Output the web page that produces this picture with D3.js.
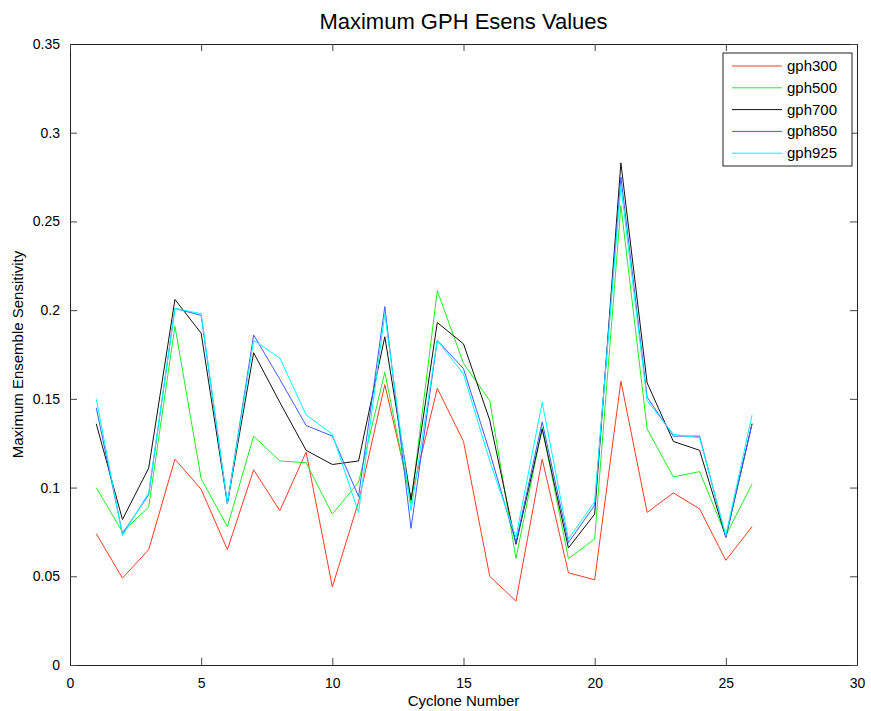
<!DOCTYPE html>
<html>
<head>
<meta charset="utf-8">
<script src="https://cdn.jsdelivr.net/npm/d3@7"></script>
<style>
  body { margin: 0; background: #fff; }
  text { font-family: "Liberation Sans", Arial, sans-serif; }
</style>
</head>
<body>
<div id="chart"></div>
<script>
// cyclone numbers 1..26
var cyclones = [1,2,3,4,5,6,7,8,9,10,11,12,13,14,15,16,17,18,19,20,21,22,23,24,25,26];

var gph300 = [0.074,0.049,0.065,0.116,0.099,0.065,0.110,0.087,0.120,0.044,0.092,0.158,0.094,0.156,0.126,0.050,0.036,0.116,0.052,0.048,0.160,0.086,0.097,0.088,0.059,0.078];
var gph500 = [0.100,0.075,0.089,0.191,0.105,0.078,0.129,0.115,0.114,0.085,0.103,0.165,0.091,0.211,0.170,0.149,0.060,0.134,0.060,0.071,0.259,0.133,0.106,0.109,0.073,0.102];
var gph700 = [0.136,0.082,0.111,0.206,0.187,0.091,0.176,0.148,0.121,0.113,0.115,0.185,0.093,0.193,0.181,0.138,0.068,0.133,0.066,0.085,0.283,0.159,0.126,0.121,0.072,0.136];
var gph850 = [0.145,0.074,0.096,0.201,0.197,0.091,0.186,0.161,0.135,0.129,0.095,0.202,0.077,0.183,0.167,0.120,0.069,0.137,0.069,0.090,0.275,0.151,0.129,0.129,0.072,0.136];
var gph925 = [0.150,0.073,0.097,0.201,0.198,0.091,0.183,0.173,0.141,0.130,0.086,0.198,0.087,0.183,0.164,0.115,0.072,0.148,0.071,0.092,0.270,0.149,0.130,0.128,0.073,0.141];

var seriesNames = ["gph300", "gph500", "gph700", "gph850", "gph925"];
var seriesValues = [gph300, gph500, gph700, gph850, gph925];
var seriesColors = ["#ff3b22", "#22ee22", "#111111", "#3a5cff", "#00ffff"];

var xTicks = [0, 5, 10, 15, 20, 25, 30];
var yTicks = [0, 0.05, 0.1, 0.15, 0.2, 0.25, 0.3, 0.35];

var W = 871, H = 711;
var margin = {top: 44, right: 14, bottom: 46, left: 70},
    width = W - margin.left - margin.right,
    height = H - margin.top - margin.bottom;

var svg = d3.select("#chart")
    .append("svg")
        .attr("width", W)
        .attr("height", H);

var g = svg.append("g")
    .attr("transform", "translate(" + margin.left + "," + margin.top + ")");

var xScale = d3.scaleLinear().domain([0, 30]).range([0, width]);
var yScale = d3.scaleLinear().domain([0, 0.35]).range([height, 0]);

var fmt = function(d) { return d3.format("")(+d.toFixed(2)); };

// axes, ticks pointing inward like matlab
var tickLen = 7;
var xAxis = g.append("g")
    .attr("transform", "translate(0," + height + ")")
    .call(d3.axisBottom(xScale).tickValues(xTicks).tickSizeInner(-tickLen).tickSizeOuter(0).tickPadding(13));
var yAxis = g.append("g")
    .call(d3.axisLeft(yScale).tickValues(yTicks).tickSizeInner(-tickLen).tickSizeOuter(0).tickPadding(10).tickFormat(fmt));
var xTop = g.append("g")
    .call(d3.axisTop(xScale).tickValues(xTicks).tickSizeInner(-tickLen).tickSizeOuter(0).tickFormat(""));
var yRight = g.append("g")
    .attr("transform", "translate(" + width + ",0)")
    .call(d3.axisRight(yScale).tickValues(yTicks).tickSizeInner(-tickLen).tickSizeOuter(0).tickFormat(""));

[xAxis, yAxis, xTop, yRight].forEach(function(a) {
  a.select(".domain").attr("stroke", "#222");
  a.selectAll(".tick line").attr("stroke", "#444");
  a.selectAll(".tick text")
      .attr("font-size", "14px")
      .attr("fill", "#000")
      .attr("font-family", "Liberation Sans, Arial, sans-serif");
});

// lines
var line = d3.line()
    .x(function(d, i) { return xScale(cyclones[i]); })
    .y(function(d) { return yScale(d); });

seriesValues.forEach(function(vals, k) {
  g.append("path")
      .datum(vals)
      .attr("fill", "none")
      .attr("stroke", seriesColors[k])
      .attr("stroke-width", 1)
      .attr("d", line);
});

// title + axis labels
svg.append("text")
    .attr("x", margin.left + width / 2)
    .attr("y", 29)
    .attr("text-anchor", "middle")
    .attr("font-size", "22px")
    .attr("fill", "#000")
    .text("Maximum GPH Esens Values");

svg.append("text")
    .attr("x", margin.left + width / 2)
    .attr("y", 706)
    .attr("text-anchor", "middle")
    .attr("font-size", "15px")
    .attr("fill", "#000")
    .text("Cyclone Number");

svg.append("text")
    .attr("transform", "rotate(-90)")
    .attr("x", -(margin.top + height / 2))
    .attr("y", 23)
    .attr("text-anchor", "middle")
    .attr("font-size", "15px")
    .attr("fill", "#000")
    .text("Maximum Ensemble Sensitivity");

// legend
var legend = svg.append("g").attr("transform", "translate(723,53)");
legend.append("rect")
    .attr("width", 129)
    .attr("height", 113)
    .attr("fill", "#fff")
    .attr("stroke", "#222")
    .attr("stroke-width", 1);

seriesNames.forEach(function(name, k) {
  var yy = 13 + k * 21.8;
  legend.append("line")
      .attr("x1", 9).attr("x2", 59)
      .attr("y1", yy).attr("y2", yy)
      .attr("stroke", seriesColors[k])
      .attr("stroke-width", 1);
  legend.append("text")
      .attr("x", 64)
      .attr("y", yy + 5)
      .attr("font-size", "15px")
      .attr("fill", "#000")
      .text(name);
});
</script>
</body>
</html>
